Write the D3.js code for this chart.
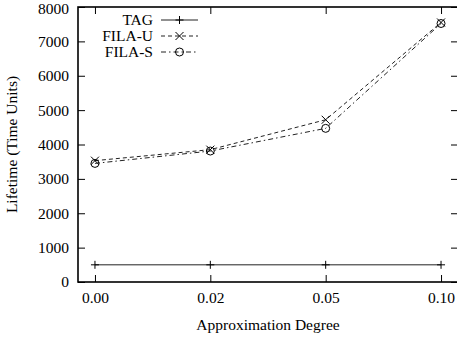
<!DOCTYPE html>
<html>
<head>
<meta charset="utf-8">
<script src="https://cdn.jsdelivr.net/npm/d3@7"></script>
<style>
  html, body { margin: 0; padding: 0; background: #fff; }
  svg { display: block; }
  svg text { font-family: "Liberation Serif", "Times New Roman", serif !important; fill: #000; }
</style>
</head>
<body>
<svg id="chart" width="457" height="339"></svg>
<script>
// Approximation degree categories on the x axis
const degrees = ["0.00", "0.02", "0.05", "0.10"];

// Lifetime (time units) per series
const tag   = [500, 500, 500, 500];
const filaU = [3530, 3850, 4720, 7550];
const filaS = [3450, 3810, 4470, 7520];

const yTicks = [0, 1000, 2000, 3000, 4000, 5000, 6000, 7000, 8000];

const series = [
  { name: "TAG",    values: tag,   dash: null,        marker: "plus"   },
  { name: "FILA-U", values: filaU, dash: "4,3",       marker: "cross"  },
  { name: "FILA-S", values: filaS, dash: "5,3,1.5,3", marker: "circle" }
];

const plot = { left: 78, right: 458, top: 7, bottom: 282 };
const fontSize = 15.5;

const svg = d3.select("#chart");

const x = d3.scalePoint()
  .domain(degrees)
  .range([plot.left, plot.right])
  .padding(0.147);

const y = d3.scaleLinear()
  .domain([0, 8000])
  .range([plot.bottom, plot.top]);

const tickLen = 7;
const frameColor = "#000";

// Frame
svg.append("rect")
  .attr("x", plot.left).attr("y", plot.top)
  .attr("width", plot.right - plot.left)
  .attr("height", plot.bottom - plot.top)
  .attr("fill", "none")
  .attr("stroke", frameColor)
  .attr("stroke-width", 1.6);

function styleAxis(g) {
  g.attr("font-family", null).attr("font-size", null);
  g.select(".domain").remove();
  g.selectAll("line").attr("stroke", frameColor);
  g.selectAll("text").attr("font-size", fontSize);
}

// Left axis: inward ticks, labels outside
const yAxisL = d3.axisLeft(y).tickValues(yTicks).tickFormat(d3.format("d"))
  .tickSizeInner(-tickLen).tickSizeOuter(0).tickPadding(9);
const gL = svg.append("g").attr("transform", `translate(${plot.left},0)`).call(yAxisL).call(styleAxis);
// keep the topmost label fully inside the canvas
gL.selectAll(".tick text").filter(d => d === 8000).attr("y", 2);

// Right axis ticks (inward)
const yAxisR = d3.axisRight(y).tickValues(yTicks).tickSizeInner(-tickLen).tickSizeOuter(0).tickFormat("");
svg.append("g").attr("transform", `translate(${plot.right},0)`).call(yAxisR).call(styleAxis);

// Bottom axis
const xAxisB = d3.axisBottom(x).tickSizeInner(-tickLen).tickSizeOuter(0).tickPadding(10);
svg.append("g").attr("transform", `translate(0,${plot.bottom})`).call(xAxisB).call(styleAxis);

// Top axis ticks
const xAxisT = d3.axisTop(x).tickSizeInner(-tickLen).tickSizeOuter(0).tickFormat("");
svg.append("g").attr("transform", `translate(0,${plot.top})`).call(xAxisT).call(styleAxis);

// Axis titles
svg.append("text")
  .attr("x", 268)
  .attr("y", 330)
  .attr("text-anchor", "middle")
  .attr("font-size", fontSize)
  .text("Approximation Degree");

svg.append("text")
  .attr("transform", `translate(17,${(plot.top + plot.bottom) / 2}) rotate(-90)`)
  .attr("text-anchor", "middle")
  .attr("font-size", fontSize)
  .text("Lifetime (Time Units)");

// Marker drawing
function drawMarker(g, kind, cx, cy) {
  const s = 4;
  if (kind === "plus") {
    g.append("path").attr("d", `M${cx - s},${cy}H${cx + s}M${cx},${cy - s}V${cy + s}`)
      .attr("stroke", "#000").attr("stroke-width", 1).attr("fill", "none");
  } else if (kind === "cross") {
    g.append("path").attr("d", `M${cx - s},${cy - s}L${cx + s},${cy + s}M${cx - s},${cy + s}L${cx + s},${cy - s}`)
      .attr("stroke", "#000").attr("stroke-width", 1).attr("fill", "none");
  } else {
    g.append("circle").attr("cx", cx).attr("cy", cy).attr("r", 4)
      .attr("stroke", "#000").attr("stroke-width", 1).attr("fill", "none");
  }
}

const line = d3.line()
  .x((d, i) => x(degrees[i]))
  .y(d => y(d));

const gSeries = svg.append("g");
series.forEach(s => {
  gSeries.append("path")
    .datum(s.values)
    .attr("d", line)
    .attr("fill", "none")
    .attr("stroke", "#222")
    .attr("stroke-width", 1)
    .attr("stroke-dasharray", s.dash);
  s.values.forEach((v, i) => drawMarker(gSeries, s.marker, x(degrees[i]), y(v)));
});

// Legend
const legend = svg.append("g");
const legRowY = [20, 36, 52];
const legTextX = 153, legLineX0 = 161, legLineX1 = 198;
series.forEach((s, i) => {
  const ly = legRowY[i];
  legend.append("text")
    .attr("x", legTextX).attr("y", ly)
    .attr("dy", "0.35em")
    .attr("text-anchor", "end")
    .attr("font-size", fontSize)
    .text(s.name);
  legend.append("line")
    .attr("x1", legLineX0).attr("x2", legLineX1)
    .attr("y1", ly).attr("y2", ly)
    .attr("stroke", "#222").attr("stroke-width", 1)
    .attr("stroke-dasharray", s.dash);
  drawMarker(legend, s.marker, (legLineX0 + legLineX1) / 2, ly);
});
</script>
</body>
</html>
